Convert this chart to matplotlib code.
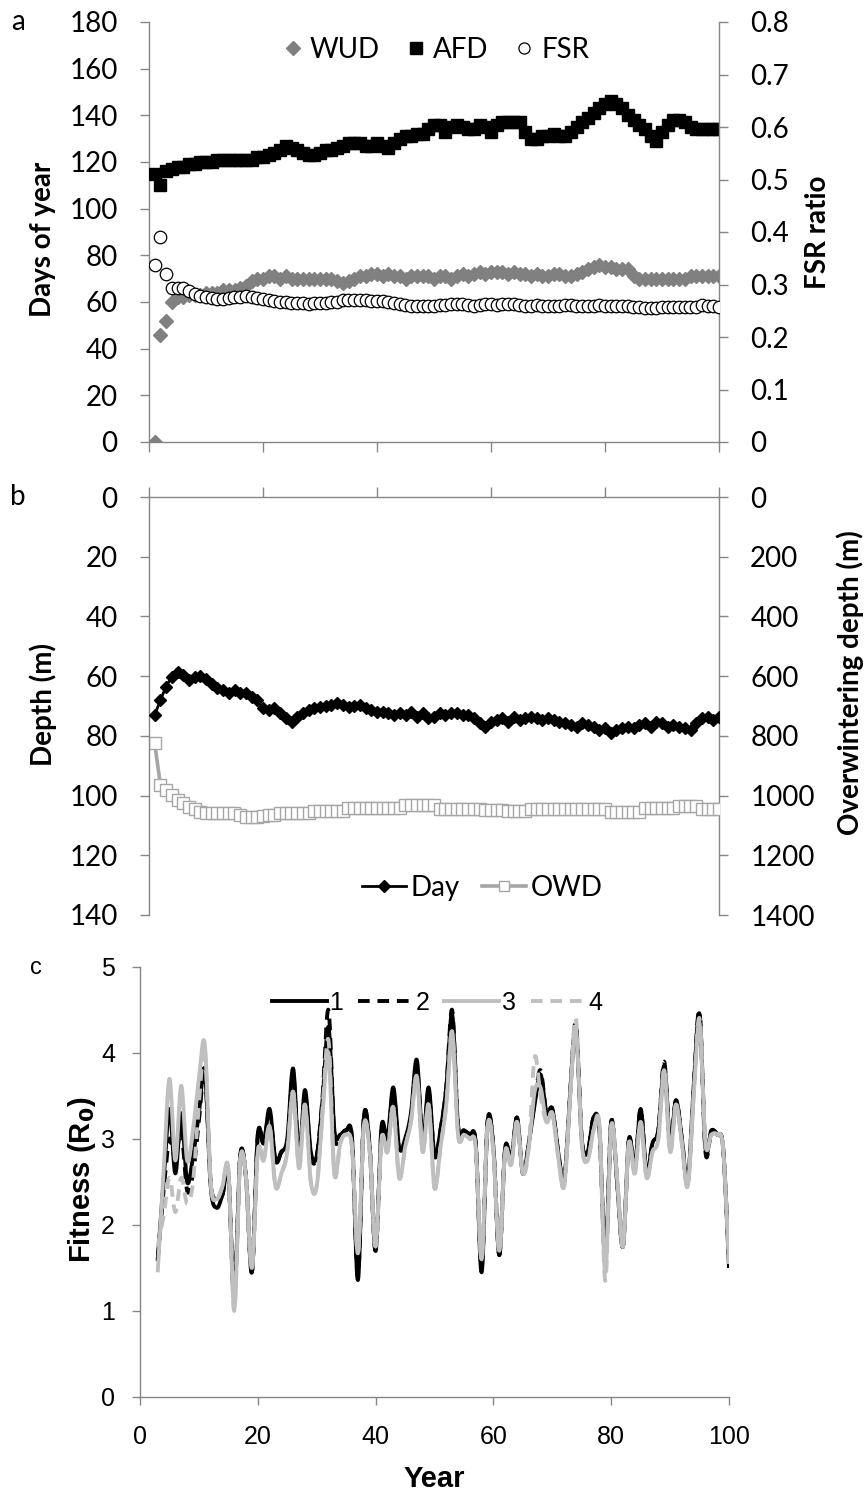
import numpy as np
import matplotlib
matplotlib.use("Agg")
import matplotlib.pyplot as plt
from matplotlib.lines import Line2D

# ---------------- data ----------------
years_ab = list(range(1, 101))

wud = [0, 46, 52, 60, 62, 62, 63, 63, 63, 64, 64, 64, 65, 65, 65, 66, 67, 69, 70, 70,
       71, 71, 70, 71, 70, 70, 70, 70, 70, 70, 70, 70, 69, 68, 69, 70, 71, 71, 72, 72,
       71, 72, 71, 71, 70, 71, 71, 71, 71, 70, 71, 71, 70, 71, 72, 71, 72, 73, 72, 73,
       73, 73, 72, 73, 72, 72, 71, 72, 71, 71, 72, 72, 71, 71, 72, 73, 74, 75, 76, 75,
       75, 74, 74, 74, 71, 70, 70, 70, 70, 70, 70, 70, 70, 70, 71, 71, 71, 71, 71, 71]

afd = [115, 110, 116, 117, 118, 118, 119, 119, 120, 120, 120, 121, 121, 121, 121, 121, 121, 121, 122, 122,
       123, 124, 125, 127, 126, 125, 124, 123, 123, 124, 125, 125, 126, 127, 128, 128, 128, 127, 127, 128,
       127, 126, 128, 130, 131, 131, 132, 132, 134, 136, 136, 133, 135, 136, 135, 134, 134, 136, 135, 133,
       136, 137, 137, 137, 137, 133, 130, 130, 131, 131, 132, 131, 131, 133, 135, 137, 139, 141, 143, 145,
       146, 145, 143, 140, 138, 136, 134, 131, 129, 133, 136, 138, 138, 137, 135, 134, 134, 134, 134, 134]

fsr = [0.338, 0.390, 0.320, 0.293, 0.293, 0.293, 0.287, 0.282, 0.279, 0.277,
       0.275, 0.272, 0.273, 0.275, 0.276, 0.277, 0.278, 0.277, 0.275, 0.273,
       0.271, 0.269, 0.267, 0.266, 0.265, 0.264, 0.264, 0.263, 0.264, 0.265,
       0.265, 0.266, 0.266, 0.270, 0.271, 0.271, 0.270, 0.270, 0.269, 0.269,
       0.268, 0.266, 0.264, 0.262, 0.261, 0.260, 0.259, 0.259, 0.259, 0.260,
       0.261, 0.261, 0.262, 0.262, 0.263, 0.261, 0.260, 0.261, 0.262, 0.262,
       0.261, 0.262, 0.263, 0.262, 0.261, 0.260, 0.260, 0.261, 0.260, 0.260,
       0.259, 0.260, 0.261, 0.261, 0.260, 0.259, 0.259, 0.260, 0.261, 0.260,
       0.259, 0.260, 0.260, 0.259, 0.258, 0.257, 0.255, 0.255, 0.256, 0.257,
       0.257, 0.258, 0.258, 0.257, 0.257, 0.258, 0.261, 0.260, 0.259, 0.257]

day_depth = [73.0, 68.0, 63.5, 60.2, 58.5, 59.6, 61.3, 60.2, 60.0, 61.1,
             62.6, 64.1, 64.6, 65.8, 64.6, 65.8, 65.8, 66.9, 68.0, 70.8,
             71.3, 70.8, 72.5, 74.1, 75.2, 73.6, 72.5, 71.3, 70.8, 70.2,
             70.0, 69.6, 69.1, 69.6, 70.2, 70.0, 69.6, 70.8, 71.3, 71.9,
             71.9, 72.5, 73.0, 72.5, 73.0, 71.9, 73.6, 72.5, 74.1, 73.6,
             72.5, 73.0, 72.5, 72.5, 73.0, 73.0, 74.1, 75.8, 76.9, 75.2,
             74.7, 74.1, 75.2, 73.6, 74.7, 74.1, 73.6, 74.1, 74.7, 74.1,
             74.7, 75.2, 75.8, 76.3, 76.9, 75.8, 76.3, 76.9, 78.0, 77.5,
             79.1, 78.0, 77.5, 76.9, 77.5, 76.3, 75.8, 76.9, 75.2, 75.8,
             76.9, 76.3, 76.9, 77.5, 78.0, 75.8, 74.1, 73.6, 74.7, 73.6]

owd = [825, 964, 981, 998, 1015, 1026, 1037, 1046, 1054, 1060,
       1058, 1058, 1058, 1058, 1058, 1065, 1073, 1073, 1073, 1070,
       1065, 1065, 1058, 1058, 1058, 1058, 1058, 1058, 1050, 1050,
       1050, 1050, 1050, 1050, 1041, 1041, 1041, 1041, 1041, 1041,
       1041, 1041, 1041, 1041, 1033, 1033, 1033, 1033, 1033, 1033,
       1045, 1045, 1045, 1045, 1045, 1045, 1045, 1045, 1048, 1048,
       1048, 1048, 1052, 1052, 1052, 1052, 1045, 1045, 1045, 1045,
       1045, 1045, 1045, 1045, 1045, 1045, 1045, 1045, 1045, 1045,
       1055, 1055, 1055, 1055, 1055, 1055, 1040, 1040, 1040, 1040,
       1040, 1040, 1035, 1035, 1035, 1035, 1045, 1045, 1045, 1045]

years_c = list(range(3, 101))

fit1 = [1.58, 2.50, 3.35, 2.60, 3.30, 2.50, 2.80, 3.30, 3.80, 2.45,
        2.20, 2.35, 2.60, 1.15, 2.80, 2.55, 1.45, 3.05, 2.95, 3.35,
        2.75, 2.85, 3.00, 3.82, 2.78, 3.57, 2.85, 2.80, 3.45, 4.30,
        3.10, 3.05, 3.10, 3.00, 1.36, 3.25, 2.90, 1.70, 3.14, 3.00,
        3.60, 2.90, 3.00, 3.30, 3.92, 2.95, 3.60, 2.80, 3.10, 3.60,
        4.45, 3.15, 3.10, 3.05, 2.95, 1.45, 3.20, 2.90, 1.65, 2.90,
        2.75, 3.25, 2.60, 2.95, 3.40, 3.75, 3.30, 3.35, 2.85, 2.50,
        3.50, 4.30, 3.00, 2.85, 3.25, 3.10, 1.60, 3.20, 2.50, 1.75,
        3.00, 2.65, 3.35, 2.60, 2.95, 3.10, 3.85, 2.95, 3.45, 3.00,
        2.50, 3.60, 4.45, 2.90, 3.10, 3.05, 2.90, 1.50]

fit2 = [1.60, 2.40, 3.00, 2.75, 3.10, 2.40, 2.60, 3.20, 3.80, 2.50,
        2.30, 2.35, 2.60, 1.15, 2.80, 2.55, 1.45, 3.05, 2.95, 3.30,
        2.75, 2.85, 2.95, 3.75, 2.80, 3.50, 2.80, 2.80, 3.50, 4.50,
        3.05, 3.05, 3.10, 3.00, 1.40, 3.25, 2.90, 1.70, 3.10, 2.95,
        3.55, 2.85, 2.95, 3.25, 3.85, 2.95, 3.55, 2.80, 3.10, 3.60,
        4.50, 3.15, 3.10, 3.05, 2.95, 1.50, 3.20, 2.90, 1.65, 2.90,
        2.75, 3.25, 2.60, 2.95, 3.45, 3.80, 3.30, 3.35, 2.85, 2.50,
        3.50, 4.35, 3.00, 2.85, 3.25, 3.10, 1.60, 3.20, 2.50, 1.75,
        3.00, 2.65, 3.35, 2.60, 2.95, 3.10, 3.90, 2.95, 3.45, 3.00,
        2.50, 3.60, 4.48, 2.85, 3.10, 3.05, 2.90, 1.55]

fit3 = [1.45, 2.60, 3.70, 2.75, 3.62, 2.75, 3.10, 3.70, 4.10, 2.50,
        2.30, 2.45, 2.65, 1.02, 2.75, 2.55, 1.50, 2.85, 2.75, 3.15,
        2.45, 2.60, 2.85, 3.55, 2.66, 3.40, 2.50, 2.45, 3.30, 4.00,
        2.60, 2.95, 3.05, 2.90, 1.67, 3.15, 2.85, 1.75, 3.00, 2.85,
        3.37, 2.55, 2.90, 3.20, 3.73, 2.85, 3.40, 2.43, 2.90, 3.40,
        4.25, 3.05, 3.05, 3.00, 2.90, 1.60, 3.15, 2.85, 1.70, 2.85,
        2.70, 3.20, 2.60, 2.90, 3.55, 3.60, 3.20, 3.30, 2.80, 2.45,
        3.45, 4.30, 2.95, 2.75, 3.10, 3.15, 1.45, 3.15, 2.55, 1.75,
        2.95, 2.60, 3.20, 2.55, 2.85, 3.00, 3.80, 2.85, 3.40, 2.95,
        2.45, 3.50, 4.35, 2.95, 3.05, 3.05, 2.90, 1.55]

fit4 = [1.75, 2.10, 2.55, 2.15, 2.55, 2.25, 2.50, 3.40, 4.05, 2.50,
        2.30, 2.45, 2.65, 1.00, 2.75, 2.55, 1.50, 2.85, 2.75, 3.15,
        2.45, 2.60, 2.85, 3.55, 2.66, 3.40, 2.50, 2.45, 3.35, 4.15,
        2.60, 2.95, 3.05, 2.90, 1.67, 3.15, 2.85, 1.75, 3.00, 2.85,
        3.37, 2.55, 2.90, 3.20, 3.73, 2.85, 3.40, 2.43, 2.90, 3.40,
        4.25, 3.05, 3.05, 3.00, 2.90, 1.60, 3.15, 2.85, 1.70, 2.85,
        2.70, 3.20, 2.60, 2.90, 3.95, 3.50, 3.20, 3.30, 2.80, 2.45,
        3.45, 4.40, 2.95, 2.75, 3.10, 3.15, 1.35, 3.15, 2.55, 1.75,
        2.95, 2.60, 3.20, 2.55, 2.85, 3.00, 3.80, 2.85, 3.40, 2.95,
        2.45, 3.50, 4.40, 2.95, 3.05, 3.05, 2.90, 1.55]

# ---------------- style ----------------
W, H = 866, 1497
plt.rcParams['font.family'] = ['Lato', 'DejaVu Sans']
SPINE = '#868686'
CAL = ['Lato', 'DejaVu Sans']
ARI = ['Liberation Sans', 'DejaVu Sans']
TFS = 20     # tick font size panels a, b


def fx(px):
    return px / W


def fy(py):
    return 1 - py / H


def box(l, t, r, b):
    return [fx(l), fy(b), fx(r) - fx(l), fy(t) - fy(b)]


def excel_smooth(x, y, n=16):
    """Catmull-Rom style smoothing (as Excel 'smoothed line')."""
    x = np.asarray(x, float)
    y = np.asarray(y, float)
    px = np.concatenate([[x[0]], x, [x[-1]]])
    py = np.concatenate([[y[0]], y, [y[-1]]])
    xs, ys = [], []
    t = np.linspace(0, 1, n, endpoint=False)
    for i in range(1, len(px) - 2):
        p0x, p1x, p2x, p3x = px[i - 1:i + 3]
        p0y, p1y, p2y, p3y = py[i - 1:i + 3]
        c1x, c1y = p1x + (p2x - p0x) / 6, p1y + (p2y - p0y) / 6
        c2x, c2y = p2x - (p3x - p1x) / 6, p2y - (p3y - p1y) / 6
        b0 = (1 - t) ** 3
        b1 = 3 * (1 - t) ** 2 * t
        b2 = 3 * (1 - t) * t ** 2
        b3 = t ** 3
        xs.append(b0 * p1x + b1 * c1x + b2 * c2x + b3 * p2x)
        ys.append(b0 * p1y + b1 * c1y + b2 * c2y + b3 * p2y)
    xs.append([x[-1]])
    ys.append([y[-1]])
    return np.concatenate(xs), np.concatenate(ys)


def style_spines(ax, show, length=6.5):
    for k, s in ax.spines.items():
        s.set_visible(k in show)
        s.set_color(SPINE)
        s.set_linewidth(1.0)
    ax.tick_params(which='both', color=SPINE, width=1.0, length=length, direction='out')


fig = plt.figure(figsize=(W / 100, H / 100), dpi=100)

# ---------------- panel a ----------------
axa = fig.add_axes(box(149, 22, 719, 442))
axa.set_facecolor('none')
axa.set_xlim(0, 100)
axa.set_ylim(0, 180)
axa.set_yticks(range(0, 181, 20))
axa.set_xticks(range(0, 101, 20))
style_spines(axa, ['left', 'bottom'])
axa.tick_params(axis='x', labelbottom=False, length=7.5)
axa.tick_params(axis='y', labelsize=TFS, pad=16)
axa.set_zorder(1)

axa2 = axa.twinx()
axa2.set_ylim(0, 0.8)
axa2.set_yticks([0, 0.1, 0.2, 0.3, 0.4, 0.5, 0.6, 0.7, 0.8])
axa2.set_yticklabels(['0', '0.1', '0.2', '0.3', '0.4', '0.5', '0.6', '0.7', '0.8'])
style_spines(axa2, ['right'])
axa2.tick_params(axis='y', labelsize=TFS, pad=16)
axa2.set_zorder(2)

axa.plot(years_ab, wud, ls='none', marker='D', ms=7.5, color='#808080', mec='#808080', zorder=3)
axa.plot(years_ab, afd, ls='none', marker='s', ms=9, color='black', zorder=3)
axa2.plot(years_ab, fsr, ls='none', marker='o', ms=9, mfc='white', mec='black', mew=0.9, zorder=4)

h_a = [Line2D([], [], ls='none', marker='D', ms=7.5, color='#808080'),
       Line2D([], [], ls='none', marker='s', ms=9, color='black'),
       Line2D([], [], ls='none', marker='o', ms=8, mfc='white', mec='black', mew=0.9)]
fig.legend(h_a, ['WUD', 'AFD', 'FSR'], loc='center', bbox_to_anchor=(fx(437), fy(50)),
           ncol=3, frameon=False, handlelength=0.6, handletextpad=0.3,
           columnspacing=1.0, prop={'family': CAL, 'size': TFS})

fig.text(fx(43), fy(239), 'Days of year', rotation=90, ha='center', va='center',
         fontsize=TFS, fontweight='bold', family=CAL)
fig.text(fx(818), fy(232), 'FSR ratio', rotation=90, ha='center', va='center',
         fontsize=TFS, fontweight='bold', family=CAL)
fig.text(fx(18), fy(22), 'a', ha='center', va='center', fontsize=TFS, family=CAL)

# ---------------- panel b ----------------
axb = fig.add_axes(box(149, 497, 719, 915))
axb.set_facecolor('none')
axb.set_xlim(0, 100)
axb.set_ylim(140, 0)
axb.set_yticks(range(0, 141, 20))
axb.set_xticks(range(0, 101, 20))
style_spines(axb, ['left', 'top'])
axb.xaxis.tick_top()
axb.tick_params(axis='x', labeltop=False, labelbottom=False, length=7.5)
axb.tick_params(axis='y', labelsize=TFS, pad=16)
axb.set_zorder(2)

axb2 = axb.twinx()
axb2.set_ylim(1400, 0)
axb2.set_yticks(range(0, 1401, 200))
style_spines(axb2, ['right'])
axb2.tick_params(axis='y', labelsize=TFS, pad=16)
axb2.set_zorder(1)

axb2.plot(years_ab, owd, color='#A6A6A6', lw=2.6, marker='s', ms=8, mfc='white',
          mec='#A6A6A6', mew=1.0, zorder=3)
axb.plot(years_ab, day_depth, color='black', lw=2.0, marker='D', ms=6.5, zorder=4)

h_b = [Line2D([], [], color='black', lw=2.0, marker='D', ms=6),
       Line2D([], [], color='#A6A6A6', lw=2.6, marker='s', ms=7, mfc='white', mec='#A6A6A6')]
fig.legend(h_b, ['Day', 'OWD'], loc='center', bbox_to_anchor=(fx(482), fy(888)),
           ncol=2, frameon=False, handlelength=1.6, handletextpad=0.15,
           columnspacing=0.8, prop={'family': CAL, 'size': TFS})

fig.text(fx(43), fy(705), 'Depth (m)', rotation=90, ha='center', va='center',
         fontsize=TFS, fontweight='bold', family=CAL)
fig.text(fx(850), fy(683), 'Overwintering depth (m)', rotation=90, ha='center', va='center',
         fontsize=TFS, fontweight='bold', family=CAL)
fig.text(fx(18), fy(497), 'b', ha='center', va='center', fontsize=TFS, family=CAL)

# ---------------- panel c ----------------
axc = fig.add_axes(box(140, 967, 729, 1397))
axc.set_xlim(0, 100)
axc.set_ylim(0, 5)
axc.set_xticks(range(0, 101, 20))
axc.set_yticks(range(0, 6))
style_spines(axc, ['left', 'bottom'], length=6)
axc.tick_params(axis='both', labelsize=18)
axc.tick_params(axis='x', pad=14)
axc.tick_params(axis='y', pad=12)
for lab in axc.get_xticklabels() + axc.get_yticklabels():
    lab.set_family(ARI)

LG = '#BFBFBF'
series = [(fit1, 'black', '-'), (fit2, 'black', (0, (3, 2))),
          (fit3, LG, '-'), (fit4, LG, (0, (3, 2)))]
for vals, col, ls in series:
    sx, sy = excel_smooth(years_c, vals)
    axc.plot(sx, sy, color=col, lw=2.8, ls=ls, solid_capstyle='butt', dash_capstyle='butt')

h_c = [Line2D([], [], color='black', lw=2.8, ls='-'),
       Line2D([], [], color='black', lw=2.8, ls=(0, (3, 2))),
       Line2D([], [], color=LG, lw=2.8, ls='-'),
       Line2D([], [], color=LG, lw=2.8, ls=(0, (3, 2)))]
fig.legend(h_c, ['1', '2', '3', '4'], loc='center', bbox_to_anchor=(fx(437), fy(1003)),
           ncol=4, frameon=False, handlelength=2.2, handletextpad=0.1,
           columnspacing=0.6, prop={'family': ARI, 'size': 18})

axc.set_xlabel('Year', fontsize=21, fontweight='bold', family=ARI, labelpad=12)
fig.text(fx(82), fy(1180), 'Fitness (R$_\\mathbf{0}$)', rotation=90, ha='center', va='center',
         fontsize=21, fontweight='bold', family=ARI)
fig.text(fx(36), fy(968), 'c', ha='center', va='center', fontsize=17, family=ARI)

fig.savefig('out.png', dpi=100)
